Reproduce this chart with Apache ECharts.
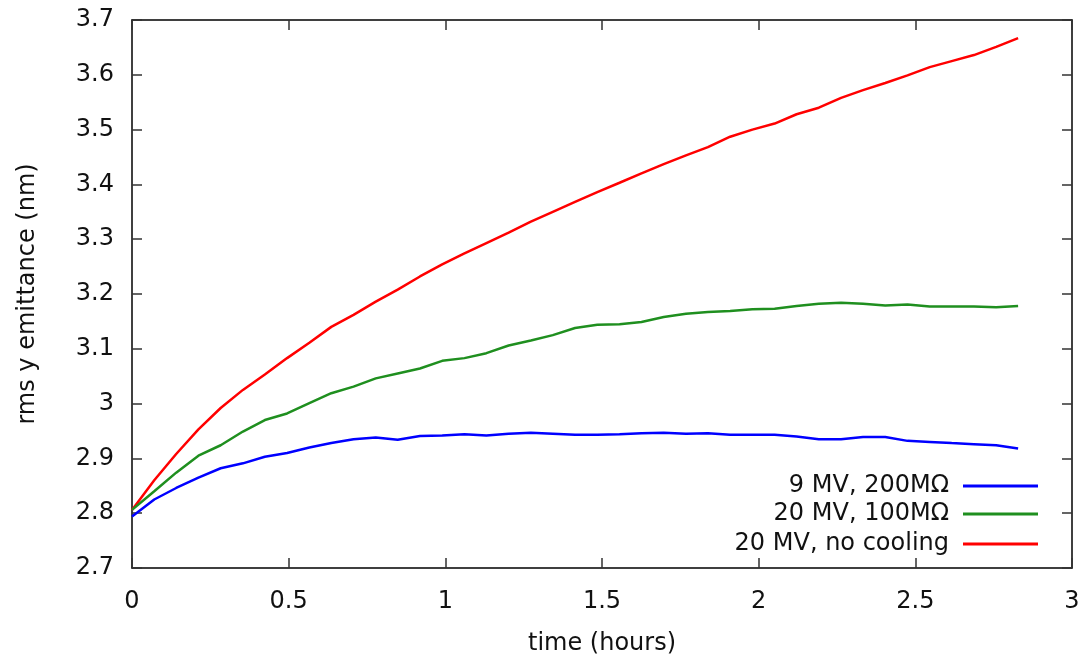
<!DOCTYPE html>
<html>
<head>
<meta charset="utf-8">
<script src="https://cdn.jsdelivr.net/npm/echarts@6/dist/echarts.min.js"></script>
<style>
  html, body { margin: 0; padding: 0; background: #ffffff; }
  #chart { width: 1082px; height: 654px; }
</style>
</head>
<body>
<div id="chart"></div>
<script>
// Simulation output time (hours), one sample every ~255 s
const hours = [0, 0.071, 0.141, 0.212, 0.283, 0.354, 0.424, 0.495, 0.566, 0.636,
  0.707, 0.778, 0.848, 0.919, 0.990, 1.061, 1.131, 1.202, 1.273, 1.343,
  1.414, 1.485, 1.556, 1.626, 1.697, 1.768, 1.838, 1.909, 1.980, 2.051,
  2.121, 2.192, 2.263, 2.333, 2.404, 2.475, 2.546, 2.616, 2.687, 2.758, 2.828];

// rms y emittance (nm) for each run
const emit9MV200 = [2.794, 2.825, 2.846, 2.865, 2.882, 2.891, 2.903, 2.910, 2.920, 2.928,
  2.935, 2.938, 2.934, 2.941, 2.942, 2.944, 2.942, 2.945, 2.947, 2.945,
  2.943, 2.943, 2.944, 2.946, 2.947, 2.945, 2.946, 2.943, 2.943, 2.943,
  2.940, 2.935, 2.935, 2.939, 2.939, 2.932, 2.930, 2.928, 2.926, 2.924, 2.918];

const emit20MV100 = [2.806, 2.840, 2.874, 2.905, 2.924, 2.949, 2.970, 2.982, 3.001, 3.019,
  3.031, 3.046, 3.055, 3.064, 3.078, 3.083, 3.092, 3.106, 3.115, 3.125,
  3.138, 3.144, 3.145, 3.149, 3.158, 3.164, 3.167, 3.169, 3.172, 3.173,
  3.178, 3.182, 3.184, 3.182, 3.179, 3.181, 3.177, 3.177, 3.177, 3.176, 3.178];

const emit20MVNoCool = [2.806, 2.860, 2.908, 2.953, 2.992, 3.025, 3.053, 3.083, 3.111, 3.140,
  3.162, 3.186, 3.208, 3.232, 3.254, 3.274, 3.293, 3.312, 3.332, 3.350,
  3.368, 3.386, 3.403, 3.420, 3.437, 3.453, 3.468, 3.487, 3.500, 3.511,
  3.528, 3.540, 3.558, 3.572, 3.585, 3.599, 3.614, 3.625, 3.636, 3.651, 3.667];

const seriesNames = ['9 MV, 200M\u03A9', '20 MV, 100M\u03A9', '20 MV, no cooling'];

// Axis tick values
const xTicks = [0, 0.5, 1, 1.5, 2, 2.5, 3];
const yTicks = [2.7, 2.8, 2.9, 3.0, 3.1, 3.2, 3.3, 3.4, 3.5, 3.6, 3.7];

const FONT = 'DejaVu Sans';
const FONT_SIZE = 24;
const TEXT_COLOR = '#111';
const colors = ['#0000ff', '#1f8f1f', '#ff0000'];

const pairs = (ys) => hours.map((t, i) => [t, ys[i]]);

const xMin = xTicks[0], xMax = xTicks[xTicks.length - 1];
const xStep = xTicks[1] - xTicks[0];
const yMin = yTicks[0], yMax = yTicks[yTicks.length - 1];
const yStep = +(yTicks[1] - yTicks[0]).toFixed(2);

const fmt = (v) => String(+v.toFixed(2));

// Closed frame: every side gets an axis line with inward ticks
const boxAxis = {
  axisLine: { show: true, onZero: false, lineStyle: { color: '#000', width: 1.5 } },
  axisTick: { show: true, inside: true, length: 10, lineStyle: { color: '#333', width: 1.5 } },
  splitLine: { show: false }
};

// One legend per entry so that all keys share the same right edge
const legendBase = {
  orient: 'vertical',
  right: 39,
  align: 'right',
  icon: 'rect',
  itemWidth: 75,
  itemHeight: 3,
  selectedMode: false,
  textStyle: { fontFamily: FONT, fontSize: FONT_SIZE, color: TEXT_COLOR, padding: [0, 9, 0, 0] }
};

const chart = echarts.init(document.getElementById('chart'), null, { renderer: 'canvas' });
chart.setOption({
  animation: false,
  backgroundColor: '#ffffff',
  grid: { left: 132, right: 10, top: 20, bottom: 86, containLabel: false, outerBoundsMode: 'none' },
  legend: [
    Object.assign({}, legendBase, { top: 469, data: [seriesNames[0]] }),
    Object.assign({}, legendBase, { top: 497, data: [seriesNames[1]] }),
    Object.assign({}, legendBase, { top: 527, data: [seriesNames[2]] })
  ],
  xAxis: [
    Object.assign({
      type: 'value', position: 'bottom', min: xMin, max: xMax, interval: xStep,
      name: 'time (hours)', nameLocation: 'middle', nameGap: 64,
      nameTextStyle: { fontFamily: FONT, fontSize: FONT_SIZE, color: TEXT_COLOR },
      axisLabel: { fontFamily: FONT, fontSize: FONT_SIZE, color: TEXT_COLOR, margin: 22, formatter: fmt }
    }, boxAxis),
    Object.assign({
      type: 'value', position: 'top', min: xMin, max: xMax, interval: xStep,
      axisLabel: { show: false }
    }, boxAxis)
  ],
  yAxis: [
    Object.assign({
      type: 'value', position: 'left', min: yMin, max: yMax, interval: yStep,
      name: 'rms y emittance (nm)', nameLocation: 'middle', nameGap: 92,
      nameTextStyle: { fontFamily: FONT, fontSize: FONT_SIZE, color: TEXT_COLOR },
      axisLabel: { fontFamily: FONT, fontSize: FONT_SIZE, color: TEXT_COLOR, margin: 18, formatter: fmt }
    }, boxAxis),
    Object.assign({
      type: 'value', position: 'right', min: yMin, max: yMax, interval: yStep,
      axisLabel: { show: false }
    }, boxAxis)
  ],
  series: [
    { name: seriesNames[0], data: pairs(emit9MV200) },
    { name: seriesNames[1], data: pairs(emit20MV100) },
    { name: seriesNames[2], data: pairs(emit20MVNoCool) }
  ].map((s, i) => Object.assign({
    type: 'line',
    xAxisIndex: 0,
    yAxisIndex: 0,
    showSymbol: false,
    symbol: 'none',
    color: colors[i],
    lineStyle: { color: colors[i], width: 2.5 },
    z: 3 - i
  }, s))
});
</script>
</body>
</html>
